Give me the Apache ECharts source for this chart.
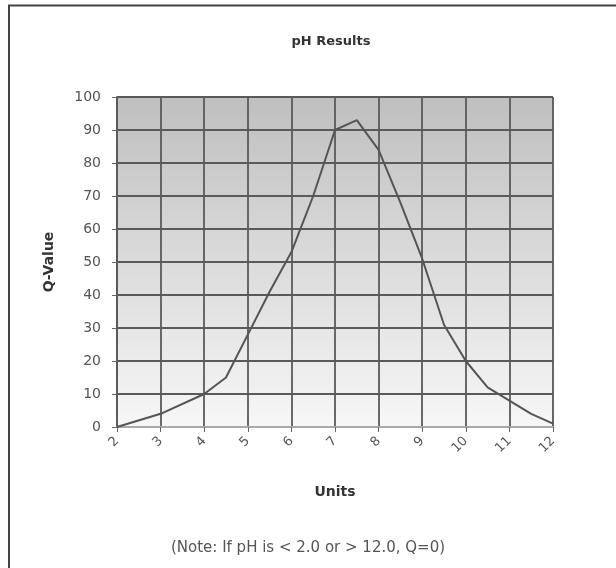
<!DOCTYPE html>
<html>
<head>
<meta charset="utf-8">
<script src="https://cdn.jsdelivr.net/npm/echarts@6/dist/echarts.min.js"></script>
<style>
html,body{margin:0;padding:0;background:#fff;}
#c{width:616px;height:568px;}
</style>
</head>
<body>
<div id="c"></div>
<script>
const titleText = "pH Results";
const xName = "Units";
const yName = "Q-Value";
const noteText = "(Note: If pH is < 2.0 or > 12.0, Q=0)";
const phValues = [2, 3, 4, 4.5, 5, 5.5, 6, 6.5, 7, 7.5, 8, 8.5, 9, 9.5, 10, 10.5, 11, 11.5, 12];
const qValues  = [0, 4, 10, 15, 28, 41, 53, 70, 90, 93, 84, 68, 51, 31, 20, 12, 8, 4, 1];

const font = "DejaVu Sans";
const chart = echarts.init(document.getElementById('c'), null, {renderer: 'canvas'});
chart.setOption({
  animation: false,
  backgroundColor: '#fff',
  title: {
    text: titleText, left: 326, top: 30, textAlign: 'center',
    textStyle: {fontFamily: font, fontSize: 13, fontWeight: 'bold', color: '#333'}
  },
  grid: {
    left: 117, right: 63, top: 97, bottom: 141, show: true,
    borderColor: '#aaa', borderWidth: 1,
    backgroundColor: new echarts.graphic.LinearGradient(0, 0, 0, 1, [
      {offset: 0, color: '#bfbfbf'}, {offset: 1, color: '#f7f7f7'}
    ])
  },
  xAxis: {
    type: 'value', min: 2, max: 12, interval: 1,
    name: xName, nameLocation: 'middle', nameGap: 58,
    nameTextStyle: {fontFamily: font, fontSize: 14, fontWeight: 'bold', color: '#333'},
    axisLine: {show: true, lineStyle: {color: '#aaa', width: 2}},
    axisTick: {show: true, length: 5, lineStyle: {color: '#666'}},
    axisLabel: {rotate: 45, margin: 12, fontFamily: font, fontSize: 13, color: '#555'},
    splitLine: {show: true, lineStyle: {color: '#5a5a5a', width: 1.8}}
  },
  yAxis: {
    type: 'value', min: 0, max: 100, interval: 10,
    name: yName, nameLocation: 'middle', nameGap: 61, nameRotate: 90,
    nameTextStyle: {fontFamily: font, fontSize: 14, fontWeight: 'bold', color: '#333'},
    axisLine: {show: true, lineStyle: {color: '#5a5a5a', width: 1.8}},
    axisTick: {show: true, length: 5, lineStyle: {color: '#666'}},
    axisLabel: {margin: 16, fontFamily: font, fontSize: 14, color: '#555'},
    splitLine: {show: true, lineStyle: {color: '#5a5a5a', width: 1.8}}
  },
  series: [{
    type: 'line',
    data: phValues.map((p, i) => [p, qValues[i]]),
    showSymbol: false,
    smooth: false,
    lineStyle: {color: '#555', width: 2}
  }],
  graphic: [
    {type: 'polyline', shape: {points: [[9, 568], [9, 5.5], [616, 5.5]]},
     style: {stroke: '#444', lineWidth: 2, fill: null}},
    {type: 'text', left: 'center', top: 541,
     style: {text: noteText, fontFamily: font, fontSize: 15, fill: '#555'}}
  ]
});
</script>
</body>
</html>
